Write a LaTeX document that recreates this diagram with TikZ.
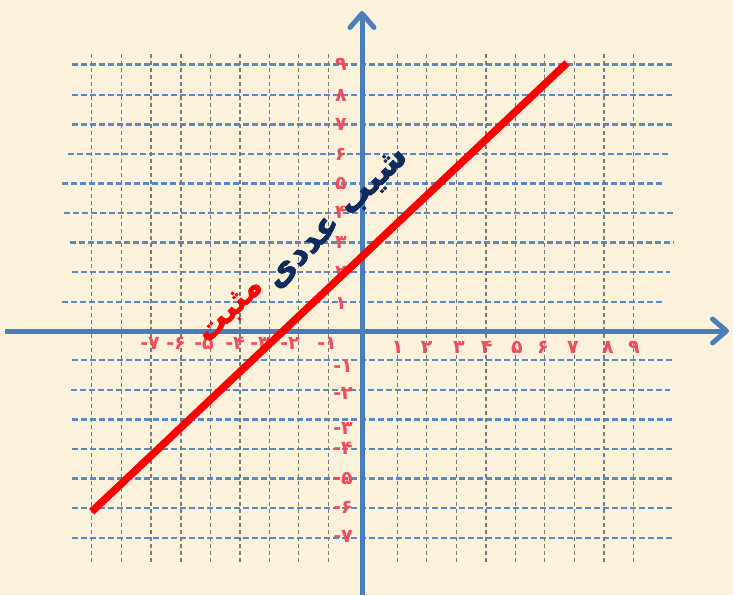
\documentclass[tikz,border=0pt]{standalone}
\usepackage{fontspec}
\newfontfamily\arabicfont[Script=Arabic,FakeBold=1.6]{DejaVu Sans Bold}
\newfontfamily\digitfont{DejaVu Sans}
\TeXXeTstate=1
\usetikzlibrary{arrows.meta}
\definecolor{bgcream}{HTML}{FCF1DA}
\definecolor{axisblue}{HTML}{4A7EBB}
\definecolor{gridblue}{HTML}{5A8AC6}
\definecolor{gridgray}{HTML}{7B7B7B}
\definecolor{labelred}{HTML}{F24B5A}
\definecolor{slopenavy}{HTML}{0F2A5C}
\begin{document}
\begin{tikzpicture}[x=1pt,y=-1pt,
  hgrid/.style={draw=gridblue,line width=2.4pt,dash pattern=on 6pt off 3pt},
  vgrid/.style={draw=gridgray,line width=1.5pt,dash pattern=on 4pt off 3pt},
  axisline/.style={draw=axisblue,line width=5pt,-{Straight Barb[length=14pt,width=24pt,round]}},
  redline/.style={draw=red,line width=7.5pt},
  lab/.style={text=labelred,font=\digitfont\bfseries\fontsize{19}{19}\selectfont,inner sep=0pt},
  slopetext/.style={text=slopenavy,font=\arabicfont\fontsize{34}{34}\selectfont,inner sep=0pt,rotate=45},
  redtext/.style={text=red,font=\arabicfont\fontsize{32}{32}\selectfont,inner sep=0pt,rotate=45}]
\fill[bgcream] (0,0) rectangle (733,595);
\useasboundingbox (0,0) rectangle (733,595);
% horizontal grid
\foreach \y/\a/\b in {64.3/72/674, 95/72/674, 124.3/72/674, 154/68/670, 183.3/62/665,
  212.7/64/674, 242.3/70/674, 271.7/72/670, 301.7/62/665,
  360/72/674, 390/71/670, 419.3/72/674, 449/72/674, 478.3/72/674, 507.7/72/674, 537.7/72/674}
  \draw[hgrid] (\a,\y) -- (\b,\y);
% vertical grid
\foreach \x in {91.7,121.7,151,181,210.7,240,269.3,298.7,328.3,397.7,426.7,456.7,486,515.3,544.7,574.3,604,633.3}
  \draw[vgrid] (\x,54) -- (\x,563);
% axes
\coordinate (xa0) at (5,331);
\coordinate (xa1) at (729,331);
\coordinate (ya0) at (362,595);
\coordinate (ya1) at (362,11);
\draw[axisline] (xa0) -- (xa1);
\draw[axisline] (ya0) -- (ya1);
% positive y labels
\foreach \d/\y [count=\i] in {۱/303, ۲/272, ۳/242, ۴/212, ۵/183, ۶/154, ۷/124, ۸/95, ۹/64}
  \node[lab] (py\i) at (341,\y) {\d};
% negative y labels
\foreach \d/\y [count=\i] in {۱/366, ۲/393, ۳/428, ۴/448, ۵/478, ۶/507, ۷/536}
  \node[lab] (ny\i) at (343,\y) {-\d};
% positive x labels
\foreach \d/\x [count=\i] in {۱/397.7, ۲/426.7, ۳/459, ۴/486.7, ۵/517, ۶/543, ۷/573, ۸/608, ۹/634}
  \node[lab] (px\i) at (\x,347) {\d};
% negative x labels
\foreach \d/\x [count=\i] in {۱/327, ۲/290, ۳/260, ۴/235, ۵/204, ۶/176, ۷/150}
  \node[lab] (nx\i) at (\x,343) {-\d};
% red line
\coordinate (r0) at (91.7,511.7);
\coordinate (r1) at (567,63);
\draw[redline] (r0) -- (r1);
% texts
\node[slopetext] (t1) at (338,219) {\beginR شیب عددی\endR};
\node[redtext] (t2) at (231,311) {\beginR مثبت\endR};
\end{tikzpicture}
\end{document}
